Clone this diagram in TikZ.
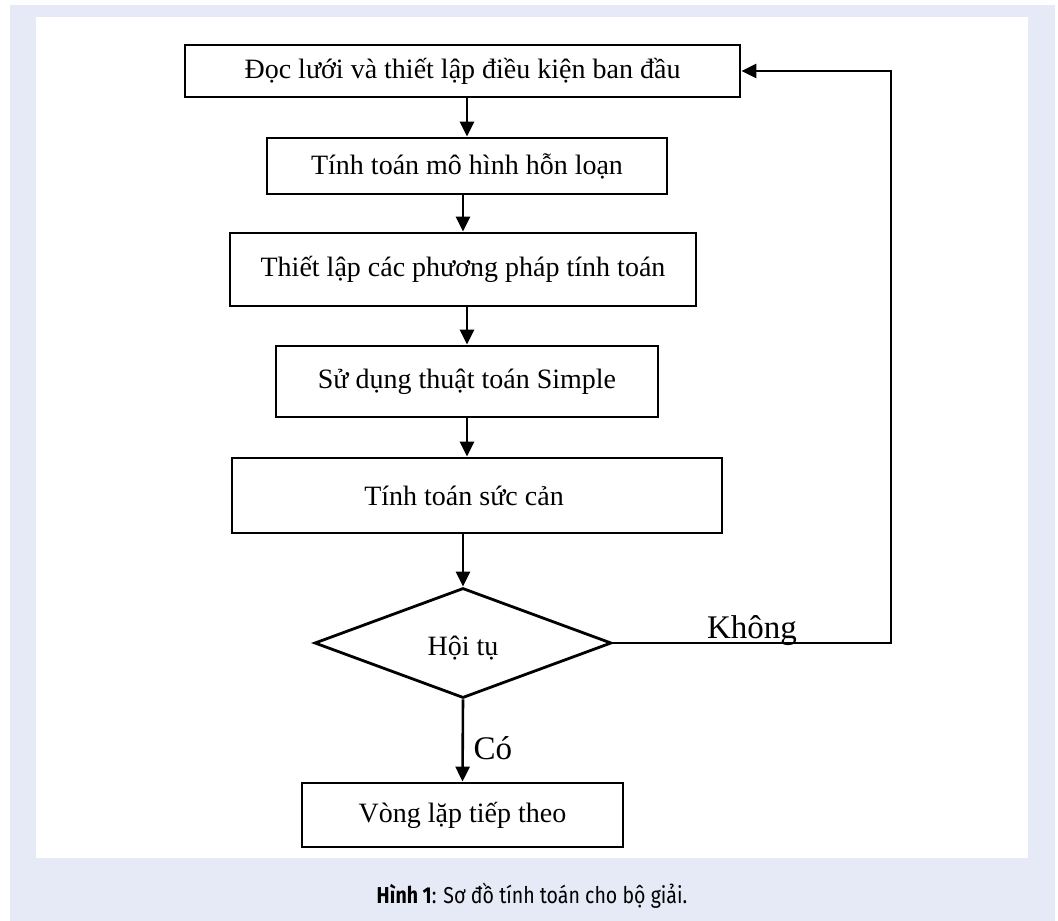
\documentclass[tikz,border=0pt]{standalone}
\usepackage{fontspec}
\setmainfont{Liberation Serif}
\newfontfamily\capfont[FakeStretch=0.85]{Fira Sans}
\usetikzlibrary{shapes.geometric,arrows.meta}

\definecolor{bandblue}{RGB}{230,234,246}

\tikzset{
  stepbox/.style={draw, line width=2.8pt, inner sep=0pt,
    font=\fontsize{28}{32}\selectfont},
  testbox/.style={diamond, draw, line width=2.8pt, inner sep=0pt, aspect=2.7,
    minimum width=297pt, minimum height=110pt},
  arr/.style={line width=2.6pt, -{Triangle[length=15pt,width=14pt]}},
  answer/.style={font=\fontsize{33}{38}\selectfont}
}

\begin{document}
\begin{tikzpicture}[x=1pt, y=-1pt]

  % Background and panel
  \useasboundingbox (0,0) rectangle (1058,921);
  \fill[white] (0,0) rectangle (1058,921);
  \fill[bandblue] (10,5) rectangle (1055,921);
  \fill[white] (36,17) rectangle (1028,858);

  % Draw the steps
  \node[stepbox, minimum width=555pt, minimum height=52pt] (read) at (462.5,71)
    {Đọc lưới và thiết lập điều kiện ban đầu};
  \node[stepbox, minimum width=400pt, minimum height=56pt] (turb) at (467,166)
    {Tính toán mô hình hỗn loạn};
  \node[stepbox, minimum width=466pt, minimum height=73pt] (meth) at (463,269.5)
    {Thiết lập các phương pháp tính toán};
  \node[stepbox, minimum width=382pt, minimum height=71pt] (simple) at (467,381.5)
    {Sử dụng thuật toán Simple};
  \node[stepbox, minimum width=490pt, minimum height=75pt] (drag) at (477,495.5)
    {Tính toán sức cản\hspace*{26pt}};

  % Draw the test
  \node[testbox] (conv) at (463,643) {};
  \node[anchor=base, font=\fontsize{28}{32}\selectfont] (convtext) at (463,655) {Hội tụ};

  % Draw the last step
  \node[stepbox, minimum width=321pt, minimum height=64pt] (next) at (462.5,815)
    {Vòng lặp tiếp theo};

  % Draw the arrows
  \draw[arr] (read.south -| turb.north) -- (turb.north);
  \draw[arr] (turb.south -| meth.north) -- (meth.north);
  \draw[arr] (meth.south -| simple.north) -- (simple.north);
  \draw[arr] (simple.south -| simple.north) -- (simple.south |- drag.north);
  \draw[arr] (drag.south -| conv.north) -- (conv.north);
  \draw[arr] (conv.south) -- (next.north);

  % Draw the loop back
  \coordinate (back) at (891,643);
  \draw[arr] (conv.east) -- (back) |- (read.east);

  % Answers
  \node[answer, anchor=base] (no) at (752,638) {Không};
  \node[answer, anchor=base west] (yes) at (470,759) {Có};

  % Caption
  \node[anchor=base, font=\capfont\fontsize{23}{27}\selectfont] (cap) at (532,903)
    {\textbf{Hình 1}: Sơ đồ tính toán cho bộ giải.};

\end{tikzpicture}
\end{document}
